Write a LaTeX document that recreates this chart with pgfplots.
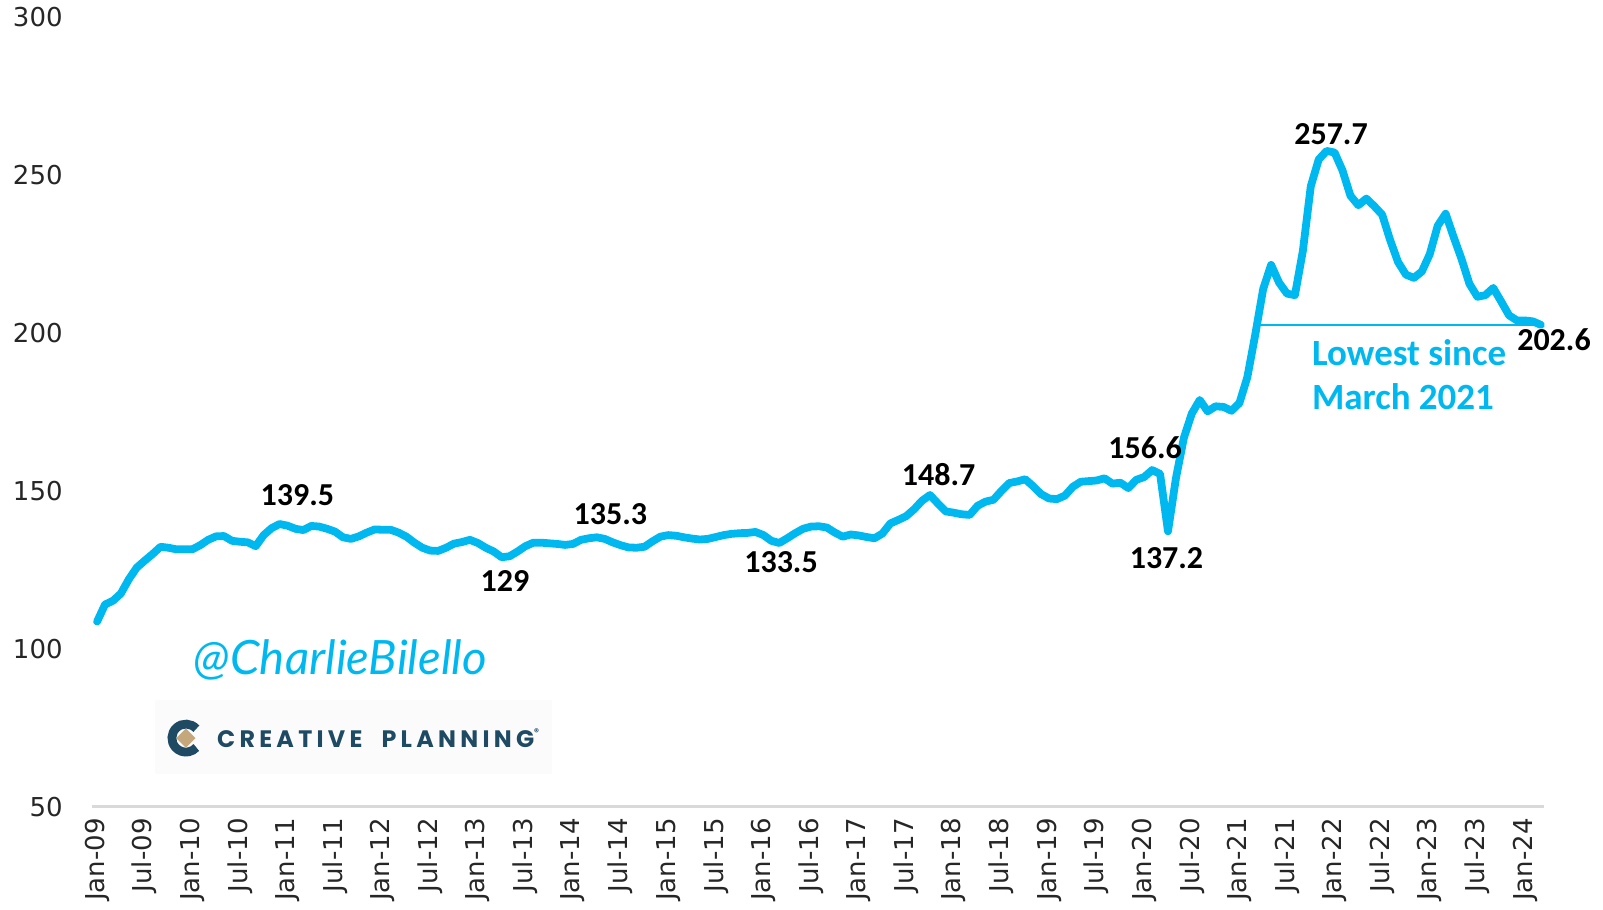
\documentclass[border=0pt]{standalone}
\usepackage{fontspec}
\setmainfont{DejaVu Sans}
\newfontfamily\carlito{Carlito}
\newfontfamily\poppins{Poppins}[LetterSpace=18]
\newfontfamily\hand{Lato}
\usepackage{pgfplots}
\usepackage{pgfplotstable}
\pgfplotsset{compat=1.18}
\definecolor{cyanline}{HTML}{00B8F0}
\definecolor{logoblue}{HTML}{1F4A63}
\definecolor{logotan}{HTML}{C4A77A}
\definecolor{axisgray}{HTML}{D9D9D9}
\definecolor{logobg}{HTML}{FBFBFB}

\pgfplotstableread{
m v
0 108.6
1 114.0
2 115.2
3 117.5
4 122.0
5 125.7
6 127.9
7 130.0
8 132.3
9 132.0
10 131.5
11 131.5
12 131.5
13 132.8
14 134.5
15 135.6
16 135.7
17 134.2
18 133.9
19 133.7
20 132.5
21 136.0
22 138.2
23 139.5
24 139.0
25 138.0
26 137.6
27 138.9
28 138.7
29 138.0
30 137.1
31 135.3
32 134.8
33 135.6
34 136.8
35 137.8
36 137.7
37 137.7
38 136.8
39 135.5
40 133.6
41 132.0
42 131.1
43 131.0
44 132.0
45 133.3
46 133.8
47 134.5
48 133.5
49 132.0
50 130.8
51 129.0
52 129.3
53 130.8
54 132.5
55 133.6
56 133.6
57 133.4
58 133.2
59 132.9
60 133.2
61 134.5
62 135.0
63 135.3
64 134.8
65 133.7
66 132.8
67 132.1
68 132.0
69 132.3
70 134.0
71 135.5
72 136.0
73 135.8
74 135.3
75 134.9
76 134.6
77 134.8
78 135.4
79 136.0
80 136.4
81 136.6
82 136.7
83 137.0
84 136.0
85 134.2
86 133.5
87 135.0
88 136.6
89 138.0
90 138.7
91 138.8
92 138.4
93 136.8
94 135.5
95 136.2
96 135.9
97 135.4
98 135.0
99 136.5
100 139.7
101 140.8
102 142.0
103 144.2
104 146.9
105 148.7
106 146.0
107 143.5
108 143.1
109 142.6
110 142.4
111 145.3
112 146.6
113 147.2
114 150.0
115 152.5
116 153.0
117 153.7
118 151.5
119 149.0
120 147.6
121 147.4
122 148.5
123 151.3
124 152.9
125 153.1
126 153.3
127 154.0
128 152.3
129 152.6
130 150.9
131 153.5
132 154.4
133 156.6
134 155.4
135 137.2
136 154.0
137 166.8
138 174.5
139 178.8
140 175.2
141 176.8
142 176.6
143 175.4
144 177.8
145 186.0
146 199.5
147 214.0
148 221.6
149 216.0
150 212.5
151 212.0
152 226.0
153 246.5
154 255.0
155 257.7
156 257.2
157 251.5
158 243.5
159 240.5
160 242.6
161 240.2
162 237.5
163 229.5
164 222.5
165 218.5
166 217.5
167 219.5
168 225.0
169 234.0
170 237.8
171 230.5
172 223.5
173 215.6
174 211.5
175 212.0
176 214.3
177 210.0
178 205.6
179 204.0
180 204.0
181 203.7
182 202.6
}\datatable

\begin{document}
\begin{tikzpicture}
\useasboundingbox (-46pt,-51.7pt) rectangle (755.5pt,403.3pt);
\begin{axis}[
  at={(0pt,0pt)}, anchor=south west,
  scale only axis, width=726pt, height=394.6pt,
  xmin=-0.64, xmax=182.4, ymin=50, ymax=300,
  axis x line*=bottom, axis y line*=left,
  y axis line style={draw=none},
  x axis line style={draw=axisgray, line width=1.2pt},
  tick style={draw=none},
  xtick={0,6,...,180},
  xticklabels={Jan-09,Jul-09,Jan-10,Jul-10,Jan-11,Jul-11,Jan-12,Jul-12,Jan-13,Jul-13,Jan-14,Jul-14,Jan-15,Jul-15,Jan-16,Jul-16,Jan-17,Jul-17,Jan-18,Jul-18,Jan-19,Jul-19,Jan-20,Jul-20,Jan-21,Jul-21,Jan-22,Jul-22,Jan-23,Jul-23,Jan-24},
  ytick={50,100,...,300},
  tick label style={font=\fontsize{13}{13}\selectfont, text=black!85},
  /pgf/number format/assume math mode=true,
  xticklabel style={rotate=90, anchor=east, inner sep=0pt},
  xticklabel shift=5.7pt,
  yticklabel style={anchor=east, inner sep=0pt},
  yticklabel shift=14.5pt,
  clip=false,
]
% logo box
\fill[logobg] (axis cs:7.35,60.33) rectangle (axis cs:57.35,83.67);
\begin{scope}[shift={(axis cs:11.2,71.7)}]
  \draw[logoblue, line width=4.4pt] (42:7pt) arc (42:318:7pt);
  \fill[logotan] (0pt,4.8pt) -- (4.8pt,0pt) -- (0pt,-4.8pt) -- (-4.8pt,0pt) -- cycle;
\end{scope}
\node[anchor=west, inner sep=0pt, text=logoblue] at (axis cs:15.08,71.7)
  {\resizebox{161pt}{!}{\poppins\bfseries CREATIVE\hspace{0.8em}PLANNING\raisebox{0.9ex}{\fontsize{4}{4}\selectfont ®}}};
\node[inner sep=0pt, text=cyanline] at (axis cs:30.68,96.53)
  {\resizebox{146.5pt}{!}{\hand\itshape @CharlieBilello}};

% annotation line
\addplot[cyanline, line width=0.8pt, forget plot] coordinates {(146.2,202.6) (181.5,202.6)};
% main series
\addplot[cyanline, line width=3.9pt, line join=round, line cap=round, no markers] table[x=m, y=v] {\datatable};

% value labels
\begin{scope}[every node/.style={inner sep=0pt, font=\carlito\bfseries\fontsize{16}{16}\selectfont, text=black}]
\node at (axis cs:25.26,148.77) {139.5};
\node at (axis cs:51.42,121.56) {129};
\node at (axis cs:64.70,142.62) {135.3};
\node at (axis cs:86.22,127.38) {133.5};
\node at (axis cs:106.08,155.26) {148.7};
\node at (axis cs:132.11,163.65) {156.6};
\node at (axis cs:134.81,128.68) {137.2};
\node at (axis cs:155.55,263.08) {257.7};
\node at (axis cs:183.66,197.99) {202.6};
\end{scope}
\begin{scope}[every node/.style={anchor=west, inner sep=0pt, font=\carlito\bfseries\fontsize{18.5}{18.5}\selectfont, text=cyanline}]
\node at (axis cs:153.11,193.78) {Lowest since};
\node at (axis cs:153.11,179.84) {March 2021};
\end{scope}
\end{axis}
\end{tikzpicture}
\end{document}
